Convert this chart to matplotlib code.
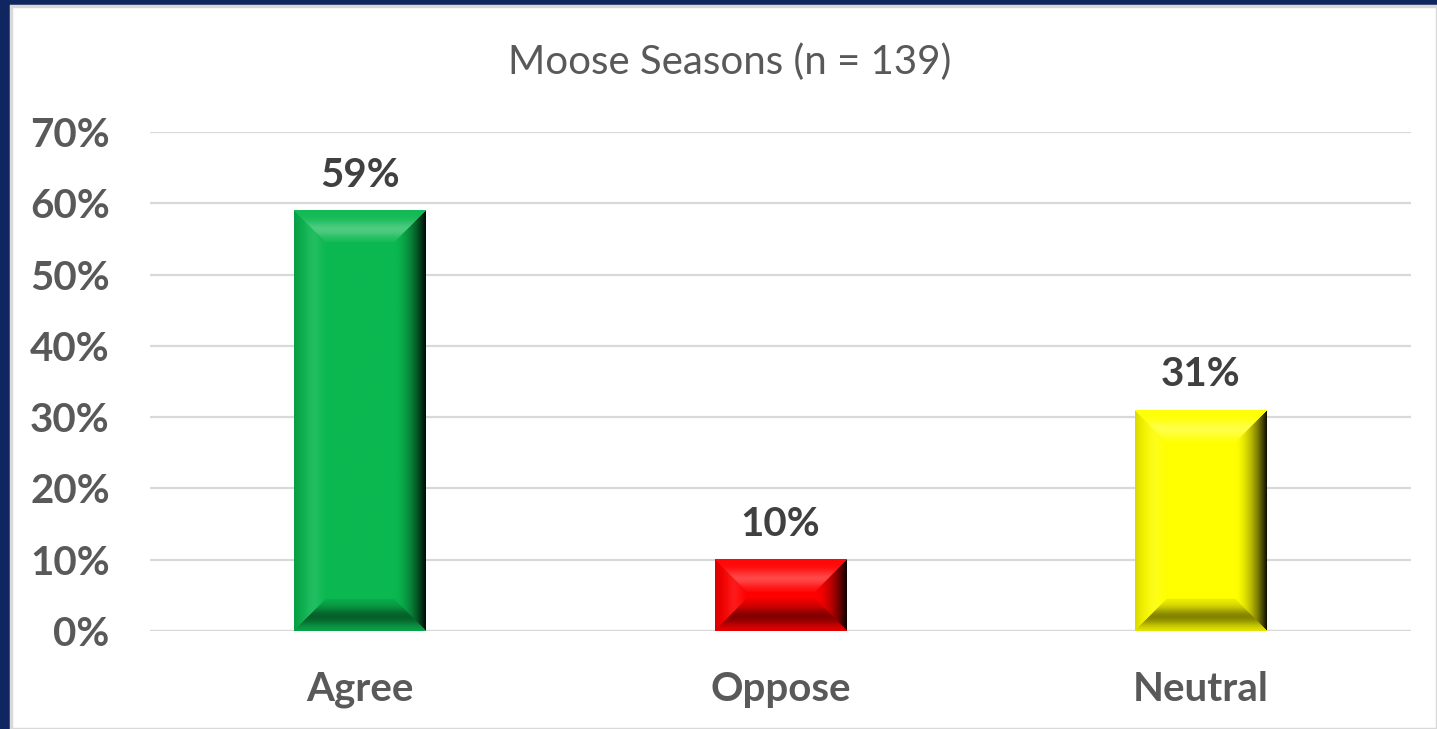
import numpy as np
import matplotlib.pyplot as plt
from matplotlib.patches import Rectangle
from matplotlib.colors import to_rgb

# data
categories = ["Agree", "Oppose", "Neutral"]
values = [0.59, 0.10, 0.31]
labels = ["59%", "10%", "31%"]
colors = ["#0BB850", "#FF0000", "#FFFF00"]
yticks = [0, 0.1, 0.2, 0.3, 0.4, 0.5, 0.6, 0.7]
title = "Moose Seasons (n = 139)"

plt.rcParams['font.family'] = ['Lato', 'DejaVu Sans']

W, H = 1437, 729
fig = plt.figure(figsize=(W / 100, H / 100), dpi=100)
fig.patch.set_facecolor("#0F2660")
# white chart area with thin grey rim
fig.patches.append(Rectangle((11 / W, 0), 1 - 11 / W, 1 - 6 / H, transform=fig.transFigure,
                             facecolor="white", edgecolor="#D9D9D9", linewidth=2.5, zorder=-5))

ax = fig.add_axes([150 / W, (H - 631) / H, 1261 / W, 499 / H])
ax.set_facecolor("none")
x = np.arange(len(categories))
bars = ax.bar(x, values, width=0.314, color=colors, zorder=2)
ax.set_xlim(-0.5, 2.5)
ax.set_ylim(0, 0.7)
ax.set_yticks(yticks)
ax.set_yticklabels([f"{int(round(v * 100))}%" for v in yticks])
ax.set_xticks(x)
ax.set_xticklabels(categories)
ax.tick_params(axis="y", length=0, pad=29, labelsize=29, labelcolor="#595959")
ax.tick_params(axis="x", length=0, pad=29, labelsize=29, labelcolor="#595959")
for lab in ax.get_xticklabels() + ax.get_yticklabels():
    lab.set_fontweight("bold")
ax.grid(axis="y", color="#D9D9D9", linewidth=1.6, zorder=0)
ax.set_axisbelow(True)
for s in ax.spines.values():
    s.set_visible(False)
ax.axhline(0, color="#D9D9D9", linewidth=1.6, zorder=1)

fig.text(730 / W, 1 - 62 / H, title, ha="center", va="center", fontsize=29, color="#595959")


# bevel shading overlay for each bar
def bevel_image(base, wpx, hpx, inset=32):
    base = np.array(to_rgb(base))
    nx, ny = max(int(wpx), 2), max(int(hpx), 2)
    px = np.arange(nx) + 0.5
    py = np.arange(ny) + 0.5
    X, Y = np.meshgrid(px, py)  # Y from top
    dl, dr, dt, db = X, nx - X, Y, ny - Y
    d = np.stack([dt, db, dl, dr])
    which = np.argmin(d, axis=0)
    dmin = np.min(d, axis=0)
    t = np.clip(dmin / inset, 0, 1)
    img = np.tile(base, (ny, nx, 1)).astype(float)
    white = np.ones(3)
    black = np.zeros(3)
    inside = dmin < inset
    # top: light band
    f = 0.25 * np.exp(-((t - 0.6) / 0.25) ** 2) + 0.03
    m = inside & (which == 0)
    img[m] = base * (1 - f[m, None]) + white * f[m, None]
    # bottom: dark band
    f = 0.42 * np.exp(-((t - 0.45) / 0.3) ** 2) + 0.06
    m = inside & (which == 1)
    img[m] = base * (1 - f[m, None]) + black * f[m, None]
    # left: slight shading
    f = 0.10 * np.exp(-((t - 0.6) / 0.25) ** 2)
    m = inside & (which == 2)
    img[m] = base * (1 - f[m, None]) + white * f[m, None]
    g = 0.15 * (1 - t) ** 3
    img[m] = img[m] * (1 - g[m, None])
    # right: fade to black at edge
    f = 0.95 * (1 - t) ** 1.8
    m = inside & (which == 3)
    img[m] = base * (1 - f[m, None]) + black * f[m, None]
    return np.clip(img, 0, 1)


fig.canvas.draw()
for b, c in zip(bars, colors):
    x0, y0 = b.get_x(), b.get_y()
    x1, y1 = x0 + b.get_width(), y0 + b.get_height()
    (p0x, p0y), (p1x, p1y) = ax.transData.transform([(x0, y0), (x1, y1)])
    img = bevel_image(c, p1x - p0x, p1y - p0y)
    ax.imshow(img, extent=(x0, x1, y0, y1), aspect="auto", zorder=3, interpolation="bilinear")
ax.set_xlim(-0.5, 2.5)
ax.set_ylim(0, 0.7)

for xi, v, lab in zip(x, values, labels):
    ax.annotate(lab, (xi, v), xytext=(0, 12), textcoords="offset points", ha="center", va="bottom",
                fontsize=29, fontweight="bold", color="#404040")

fig.savefig("out.png", dpi=100, facecolor=fig.get_facecolor())
